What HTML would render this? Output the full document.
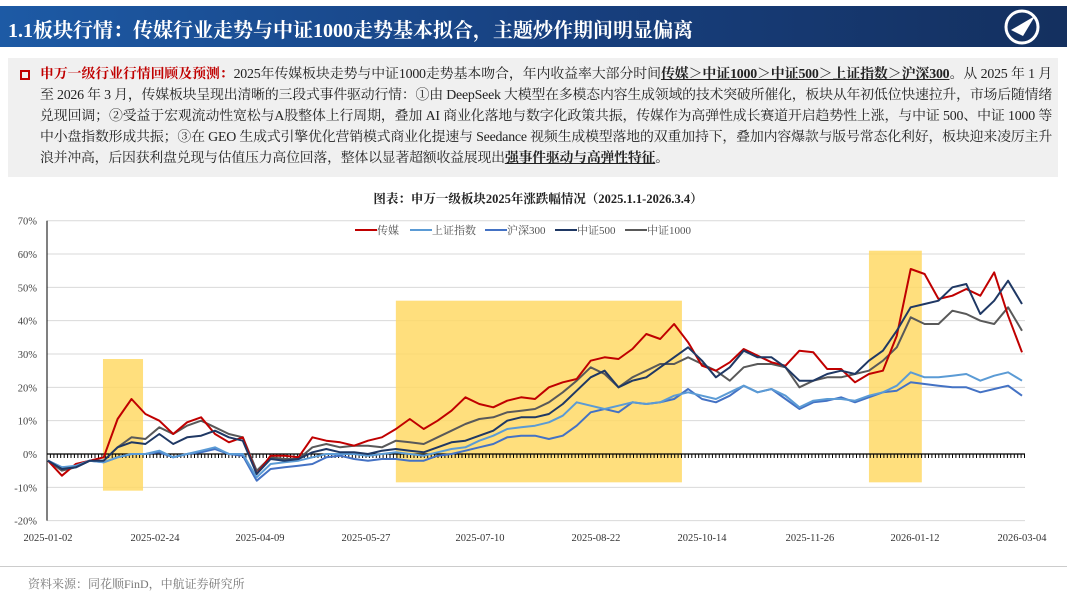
<!DOCTYPE html>
<html><head><meta charset="utf-8">
<style>
body{margin:0;width:1067px;height:600px;background:#fff;overflow:hidden;font-family:"Liberation Serif","Noto Serif CJK SC",serif;position:relative}
#hdr{position:absolute;left:0;top:6px;width:1067px;height:41px;background:linear-gradient(90deg,#1d5aa5 0%,#173f7e 55%,#14305f 100%)}
#hdr h1{margin:0;position:absolute;left:8px;top:8px;color:#fff;font-size:20px;font-weight:bold;font-family:"Liberation Serif","Noto Serif CJK SC",serif}
#box{position:absolute;left:8px;top:58px;width:1050px;height:119px;background:#f0f0f0}
#box p{margin:0;position:absolute;left:32px;top:6px;width:1012px;font-size:13.9px;line-height:21px;color:#222;text-align:justify;letter-spacing:-0.22px}
.red{color:#c00000;font-weight:bold}
.u{text-decoration:underline;font-weight:bold}
#bul{position:absolute;left:12px;top:12px;width:6px;height:6px;border:2px solid #c00000}
#src{position:absolute;left:28px;top:575px;font-size:12px;color:#777}
</style></head><body>
<div id="hdr"><h1>1.1板块行情：传媒行业走势与中证1000走势基本拟合，主题炒作期间明显偏离</h1>
<svg style="position:absolute;left:1003px;top:2px" width="38" height="38"><circle cx="19" cy="19" r="16" fill="none" stroke="#fff" stroke-width="3"/><path d="M8 22 L32 8 L20 28 Z" fill="#fff"/></svg></div>
<div id="box"><div id="bul"></div>
<p><span class="red">申万一级行业行情回顾及预测：</span>2025年传媒板块走势与中证1000走势基本吻合，年内收益率大部分时间<span class="u">传媒＞中证1000＞中证500＞上证指数＞沪深300</span>。从 2025 年 1 月至 2026 年 3 月，传媒板块呈现出清晰的三段式事件驱动行情：①由 DeepSeek 大模型在多模态内容生成领域的技术突破所催化，板块从年初低位快速拉升，市场后随情绪兑现回调；②受益于宏观流动性宽松与A股整体上行周期，叠加 AI 商业化落地与数字化政策共振，传媒作为高弹性成长赛道开启趋势性上涨，与中证 500、中证 1000 等中小盘指数形成共振；③在 GEO 生成式引擎优化营销模式商业化提速与 Seedance 视频生成模型落地的双重加持下，叠加内容爆款与版号常态化利好，板块迎来凌厉主升浪并冲高，后因获利盘兑现与估值压力高位回落，整体以显著超额收益展现出<span class="u">强事件驱动与高弹性特征</span>。</p></div>
<svg id="chart" style="position:absolute;left:0;top:185px" width="1067" height="375"></svg>
<div style="position:absolute;left:0;top:566px;width:1067px;height:1px;background:#ccc"></div>
<div id="src">资料来源：同花顺FinD，中航证券研究所</div>
<script>
const seriesNames=["传媒","上证指数","沪深300","中证500","中证1000"];
const media=[-2,-6.5,-3,-2,-1,10.5,16.5,12,10,6,9.5,11,6,3.5,5,-6,-0.5,-0.5,-1,5,4,3.5,2.5,4,5,7.5,10.5,7.5,10,13,17,15,14,16,17,16.5,20,21.5,22.5,28,29,28.5,31.5,36,34.5,39,33.5,26.5,25,27.5,31.5,29.5,27.5,26.5,31,30.5,25.5,25.5,21.5,24,25,35.5,55.5,54,46.5,47.5,49.5,47.5,54.5,41.5,30.5];
const shIndex=[-2,-4,-3.5,-2,-2.5,-1,0,0,1,-1,0,1,2,0,0,-7,-3,-2.5,-2,-1,0,0,0,-0.5,0,0.5,0,-0.5,0.5,1.5,2,4,5.5,7.5,8,8.5,9.5,11.5,15.5,14.5,13.5,14.5,15.5,15,15.5,17.5,18.5,17.5,16.5,18.5,20.5,18.5,19.5,17.5,14,16,16.5,16.5,16,17.5,18.5,20.5,24.5,23,23,23.5,24,22,23.5,24.5,22];
const hs300=[-2,-4,-4,-2,-2.5,-1,0,0,0.5,-1,0,0.5,1.5,0,-0.5,-8,-4.5,-4,-3.5,-3,-1,-0.5,-1.5,-2,-1.5,-1.5,-2,-2,-0.5,0,1,2,3,5,5.5,5.5,4.5,5.5,8.5,12.5,13.5,12.5,15.5,15,15.5,16.5,19.5,16.5,15.5,17.5,20.5,18.5,19.5,16.5,13.5,15.5,16,17,15.5,17,18.5,19,21.5,21,20.5,20,20,18.5,19.5,20.5,17.5];
const zz500=[-2,-4.5,-4,-2,-2,2,3.5,3,6,3,5,5.5,7,5,4,-6,-1.5,-2,-1.5,0.5,1.5,0.5,0.5,0,1,1.5,1,0.5,2,3.5,4,5.5,7,10,11,11,12,15,19,23,25,20,22,23,26,29,32,28,23,26,31,29,29,26,22,22,24,25,24,28,31,37,44,45,46,50,51,42,46,52,45];
const zz1000=[-2,-5,-4,-2,-2,2,5,4.5,8,6,8.5,10,8,6,5,-5,-1,-1.5,-1.5,2,3,2,2.5,2.5,2,4,3.5,3,5,7,9,10.5,11,12.5,13,13.5,15.5,18.5,22,26,24,20,23,25,27,27,29,27,25,22,26,27,27,26,20,22,23,23,24,25,28,32,41,39,39,43,42,40,39,44,37];
const xLabels=["2025-01-02","2025-02-24","2025-04-09","2025-05-27","2025-07-10","2025-08-22","2025-10-14","2025-11-26","2026-01-12","2026-03-04"];
const xLabelIdx=[0,7.69,15.24,22.85,31.05,39.38,47,54.76,62.31,70];
const yTicks=[-20,-10,0,10,20,30,40,50,60,70];
const shadeStart=[3.95,25,59];
const shadeEnd=[6.83,45.56,62.8];
const shadeTop=[28.5,46,61];
const shadeBottom=[-11,-8.5,-8.5];
const colors=["#c00000","#5b9bd5","#4472c4","#1f3864","#595959"];
const data=[media,shIndex,hs300,zz500,zz1000];
const svg=document.getElementById('chart');const NS="http://www.w3.org/2000/svg";
const OY=185,L=48,R=1022,N=71;
function X(i){return L+i*(R-L)/(N-1);}
function Y(v){return 454-OY-v*3.333;}
function mk(t,a,p){const e=document.createElementNS(NS,t);for(const k in a)e.setAttribute(k,a[k]);(p||svg).appendChild(e);return e;}
let t=mk('text',{x:538,y:18,'text-anchor':'middle','font-size':12.5,'font-weight':'bold',fill:'#222'});t.textContent='图表：申万一级板块2025年涨跌幅情况（2025.1.1-2026.3.4）';


yTicks.forEach(v=>{if(v!==0){const g=mk('line',{x1:47,x2:1025,y1:Y(v),y2:Y(v),stroke:'#d9d9d9','stroke-width':1});

}
const l=mk('text',{x:37,y:Y(v)+4,'text-anchor':'end','font-size':10.5,fill:'#444'});l.textContent=v+'%';

});
shadeStart.forEach((s,k)=>{const r=mk('rect',{x:X(s),y:Y(shadeTop[k]),width:X(shadeEnd[k])-X(s),height:Y(shadeBottom[k])-Y(shadeTop[k]),fill:'#ffd966',opacity:0.85});

});
const ax=mk('line',{x1:47,x2:47,y1:Y(70),y2:Y(-20),stroke:'#000','stroke-width':1});


const zl=mk('line',{x1:47,x2:1025,y1:Y(0),y2:Y(0),stroke:'#000','stroke-width':1.3});


let d='';for(let x=47;x<=1025;x+=3.43)d+='M'+x.toFixed(1)+' '+Y(0)+'v4';
const tk=mk('path',{d:d,stroke:'#000','stroke-width':1});


[4,0,2,1,3].forEach(s=>{const pts=data[s].map((v,i)=>X(i).toFixed(1)+','+Y(v).toFixed(1)).join(' ');
const p=mk('polyline',{points:pts,fill:'none',stroke:colors[s],'stroke-width':2,'stroke-linejoin':'round'});

});
xLabels.forEach((s,k)=>{const l=mk('text',{x:X(xLabelIdx[k]),y:356,'text-anchor':'middle','font-size':10.5,fill:'#333'});l.textContent=s;

});
const lx=[355,410,485,555,625];
seriesNames.forEach((n,k)=>{const g=mk('g',{});


mk('line',{x1:lx[k],x2:lx[k]+22,y1:45,y2:45,stroke:colors[k],'stroke-width':2},g);
const tx=mk('text',{x:lx[k]+22,y:49,'font-size':11,fill:'#555'},g);tx.textContent=n;});
</script>
</body></html>
